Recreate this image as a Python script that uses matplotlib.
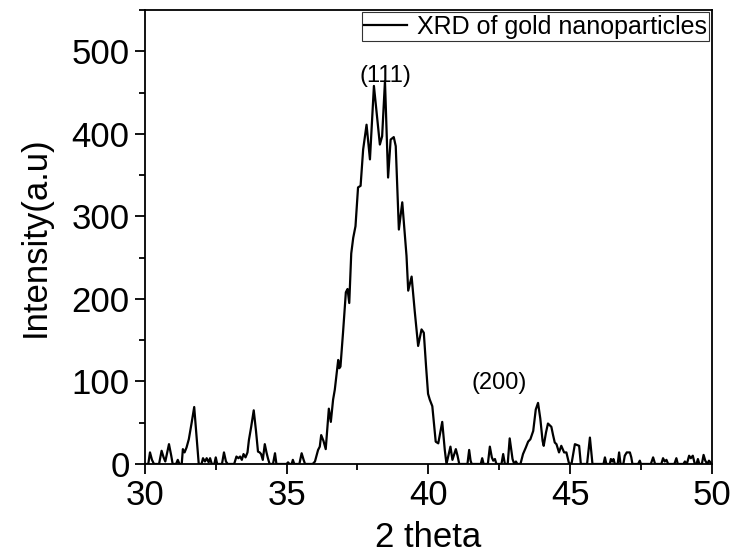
import matplotlib
matplotlib.use('Agg')
import matplotlib.pyplot as plt
from matplotlib.ticker import MultipleLocator

# XRD pattern
two_theta = [
    30.00, 30.12, 30.18, 30.25, 30.32, 30.50, 30.59, 30.66, 30.72, 30.85,
    30.93, 30.98, 31.10, 31.16, 31.22, 31.30, 31.34, 31.40, 31.47, 31.55,
    31.65, 31.74, 31.82, 31.90, 32.00, 32.05, 32.12, 32.18, 32.25, 32.30,
    32.36, 32.45, 32.50, 32.55, 32.72, 32.79, 32.86, 32.92, 33.15, 33.23,
    33.30, 33.36, 33.42, 33.48, 33.55, 33.62, 33.67, 33.75, 33.84, 33.92,
    33.99, 34.05, 34.10, 34.16, 34.23, 34.29, 34.34, 34.40, 34.52, 34.59,
    34.64, 35.00, 35.05, 35.10, 35.18, 35.22, 35.27, 35.45, 35.53, 35.60,
    35.65, 35.92, 36.00, 36.11, 36.17, 36.22, 36.30, 36.38, 36.49, 36.56,
    36.64, 36.70, 36.82, 36.86, 36.90, 36.99, 37.09, 37.15, 37.21, 37.28,
    37.35, 37.43, 37.52, 37.61, 37.70, 37.82, 37.94, 38.08, 38.19, 38.29,
    38.37, 38.47, 38.58, 38.67, 38.78, 38.85, 38.96, 39.08, 39.23, 39.29,
    39.41, 39.52, 39.64, 39.76, 39.84, 39.92, 39.99, 40.05, 40.14, 40.26,
    40.35, 40.49, 40.58, 40.64, 40.78, 40.85, 40.97, 41.03, 41.09, 41.38,
    41.44, 41.49, 41.53, 41.85, 41.90, 41.95, 42.10, 42.17, 42.24, 42.29,
    42.35, 42.40, 42.58, 42.64, 42.70, 42.80, 42.87, 42.97, 43.03, 43.09,
    43.14, 43.25, 43.34, 43.44, 43.52, 43.60, 43.70, 43.79, 43.87, 43.95,
    44.03, 44.07, 44.15, 44.22, 44.34, 44.40, 44.46, 44.52, 44.61, 44.69,
    44.79, 44.87, 44.96, 45.05, 45.10, 45.17, 45.24, 45.32, 45.38, 45.60,
    45.70, 45.79, 46.18, 46.23, 46.28, 46.40, 46.44, 46.49, 46.53, 46.58,
    46.68, 46.73, 46.78, 46.88, 46.93, 47.00, 47.11, 47.16, 47.20, 47.40,
    47.46, 47.50, 47.85, 47.93, 48.00, 48.22, 48.28, 48.34, 48.40, 48.46,
    48.68, 48.75, 48.80, 49.00, 49.05, 49.12, 49.20, 49.26, 49.33, 49.40,
    49.46, 49.51, 49.56, 49.65, 49.71, 49.77, 49.84, 49.90, 50.00,
]
intensity = [
    0, 0, 14, 5, 0, 0, 16, 8, 3, 24,
    10, 0, 0, 5, 0, 0, 18, 14, 20, 30,
    50, 69, 35, 0, 0, 7, 3, 7, 2, 7,
    0, 0, 8, 0, 0, 14, 3, 0, 0, 9,
    7, 9, 5, 12, 8, 14, 29, 45, 65, 40,
    15, 14, 12, 5, 24, 14, 7, 0, 0, 13,
    0, 0, 2, 0, 0, 5, 0, 0, 13, 5,
    0, 0, 3, 17, 21, 35, 28, 18, 67, 51,
    78, 90, 126, 116, 118, 159, 208, 212, 195, 255,
    274, 288, 335, 337, 381, 411, 369, 458, 421, 387,
    397, 464, 347, 393, 396, 385, 284, 317, 252, 210,
    227, 185, 143, 163, 159, 118, 85, 78, 70, 27,
    25, 51, 17, 0, 21, 5, 18, 10, 0, 0,
    17, 4, 0, 0, 7, 0, 0, 21, 8, 4,
    6, 0, 0, 12, 0, 0, 31, 6, 0, 3,
    0, 0, 12, 20, 27, 30, 40, 66, 74, 55,
    28, 22, 38, 49, 45, 35, 26, 24, 14, 22,
    14, 14, 1, 0, 10, 24, 23, 22, 0, 0,
    32, 0, 0, 8, 0, 0, 6, 3, 6, 0,
    0, 14, 0, 0, 10, 14, 14, 8, 0, 0,
    4, 0, 0, 8, 0, 0, 7, 3, 5, 0,
    0, 7, 0, 0, 3, 0, 10, 7, 10, 0,
    0, 6, 0, 0, 11, 4, 0, 4, 0,
]
peak_labels = ['(111)', '(200)']
peak_x = [38.47, 42.49]
peak_y = [470, 98]

plt.rcParams['font.family'] = ['Liberation Sans', 'DejaVu Sans']

fig = plt.figure(figsize=(7.43, 5.54), dpi=100)
ax = fig.add_axes([0.195, 0.1625, 0.763, 0.8195])
ax.plot(two_theta, intensity, color='black', linewidth=1.6,
        label='XRD of gold nanoparticles')

# Miller indices of the gold reflections
for lbl, px, py in zip(peak_labels, peak_x, peak_y):
    ax.text(px, py, lbl, fontsize=17, ha='center', va='center')

ax.set_xlim(30, 50)
ax.set_ylim(0, 550)
ax.xaxis.set_major_locator(MultipleLocator(5))
ax.xaxis.set_minor_locator(MultipleLocator(2.5))
ax.yaxis.set_major_locator(MultipleLocator(100))
ax.yaxis.set_minor_locator(MultipleLocator(50))
ax.tick_params(which='major', direction='out', length=7, width=1.3,
               labelsize=25, pad=4)
ax.tick_params(which='minor', direction='out', length=4, width=1.3)
for spine in ax.spines.values():
    spine.set_linewidth(1.3)

ax.set_xlabel('2 theta', fontsize=25, labelpad=6)
ax.set_ylabel('Intensity(a.u)', fontsize=25, labelpad=14)

leg = ax.legend(loc='upper right', fontsize=18, frameon=True, fancybox=False,
                edgecolor='black', borderaxespad=0.1, borderpad=0.1,
                handlelength=1.7, handletextpad=0.4)
leg.get_frame().set_linewidth(0.8)

fig.savefig('out.png', dpi=100)
